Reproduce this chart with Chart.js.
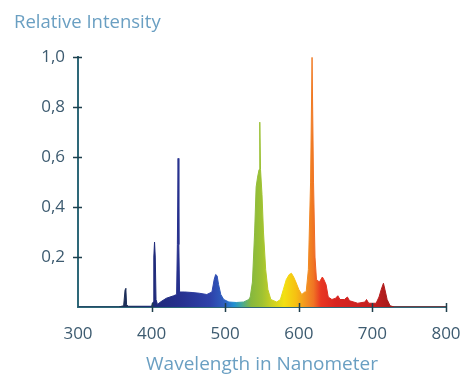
<!DOCTYPE html>
<html>
<head>
<meta charset="utf-8">
<script src="https://cdn.jsdelivr.net/npm/chart.js@4.4.1/dist/chart.umd.min.js"></script>
<style>
  html, body { margin: 0; padding: 0; background: #ffffff; }
  #wrap { width: 468px; height: 378px; }
</style>
</head>
<body>
<div id="wrap"><canvas id="spectrumChart"></canvas></div>
<script>
// Spectrum (wavelength in nm, relative intensity)
const wavelengths = [
    300, 355, 362, 364, 365, 366, 368,
    400, 402, 403, 404, 405, 406, 408,
    412, 420, 430, 434, 435, 436, 437, 438,
    445, 455, 465, 475, 482, 485, 487, 489, 491, 494, 498,
    505, 515, 525, 532, 534, 537, 540, 542, 544, 546, 547, 548, 550, 552, 555, 558, 562, 570,
    575, 579, 583, 587, 590, 593, 596, 600, 604, 608,
    610, 613, 616, 618, 620, 622, 624, 628, 632, 634, 637, 640,
    645, 650, 653, 656, 662, 666, 669, 680, 690, 692, 695,
    705, 709, 712, 715, 717, 720, 724, 730, 800
];
const intensities = [
    0, 0, 0.005, 0.07, 0.075, 0.01, 0.003,
    0.003, 0.02, 0.2, 0.26, 0.2, 0.03, 0.01,
    0.02, 0.035, 0.045, 0.05, 0.25, 0.595, 0.25, 0.06,
    0.06, 0.058, 0.055, 0.05, 0.06, 0.11, 0.13, 0.125, 0.09, 0.05, 0.03,
    0.02, 0.018, 0.02, 0.03, 0.04, 0.1, 0.3, 0.48, 0.52, 0.55, 0.74, 0.55, 0.45, 0.3, 0.15, 0.07, 0.03, 0.02,
    0.03, 0.07, 0.11, 0.13, 0.135, 0.12, 0.1, 0.07, 0.05, 0.06,
    0.06, 0.15, 0.5, 1.0, 0.5, 0.2, 0.11, 0.1, 0.12, 0.11, 0.09, 0.04,
    0.03, 0.035, 0.045, 0.03, 0.03, 0.04, 0.025, 0.015, 0.02, 0.03, 0.015,
    0.015, 0.04, 0.07, 0.095, 0.07, 0.03, 0.005, 0, 0
];
const xTicks = [300, 400, 500, 600, 700, 800];
const yTicks = [0.2, 0.4, 0.6, 0.8, 1.0];

// colour of the fill along the wavelength axis
const spectrumStops = [
    [360, '#1c2f55'], [400, '#1f2a78'], [440, '#26308f'], [480, '#2e42aa'],
    [500, '#2f62c2'], [512, '#2290d2'], [522, '#42a89c'], [535, '#86b83e'],
    [550, '#9fc232'], [565, '#cdd222'], [580, '#f2e012'], [596, '#f6c012'],
    [610, '#f29222'], [620, '#f07424'], [630, '#e83622'], [650, '#d82420'],
    [700, '#c42020'], [725, '#a41a1a']
];

const axisColor = '#2e6878';
const tickColor = '#3d5b70';
const titleColor = '#6a9fc2';

function spectrumGradient(context) {
    const chart = context.chart;
    const xScale = chart.scales.x;
    if (!chart.chartArea || !xScale) return '#26308f';
    const x0 = xScale.getPixelForValue(300);
    const x1 = xScale.getPixelForValue(800);
    const g = chart.ctx.createLinearGradient(x0, 0, x1, 0);
    spectrumStops.forEach(s => g.addColorStop((s[0] - 300) / 500, s[1]));
    return g;
}

// small tick marks that cross the axis lines
const crossTicks = {
    id: 'crossTicks',
    afterDatasetsDraw(chart) {
        const c = chart.ctx;
        const xs = chart.scales.x, ys = chart.scales.y;
        const area = chart.chartArea;
        c.save();
        c.strokeStyle = '#1f3f4c';
        c.lineWidth = 1.5;
        c.beginPath();
        xTicks.forEach(v => {
            const px = Math.round(xs.getPixelForValue(v)) + 0.5;
            if (v === 300) return;
            c.moveTo(px, area.bottom - 4);
            c.lineTo(px, area.bottom + 5);
        });
        yTicks.forEach(v => {
            const py = Math.round(ys.getPixelForValue(v)) + 0.5;
            c.moveTo(area.left - 5, py);
            c.lineTo(area.left + 4, py);
        });
        c.stroke();
        c.restore();
    }
};

const ctx = document.getElementById('spectrumChart').getContext('2d');
const spectrumChart = new Chart(ctx, {
    type: 'line',
    data: {
        datasets: [{
            label: 'Relative Intensity',
            data: wavelengths.map((w, i) => ({ x: w, y: intensities[i] })),
            backgroundColor: spectrumGradient,
            borderColor: spectrumGradient,
            borderWidth: 1,
            fill: 'origin',
            pointRadius: 0,
            tension: 0
        }]
    },
    options: {
        responsive: true,
        maintainAspectRatio: false,
        animation: false,
        layout: { padding: { left: 14, right: 22, top: 0, bottom: 0 } },
        plugins: {
            legend: { display: false },
            tooltip: { enabled: false },
            title: {
                display: true,
                text: 'Relative Intensity',
                align: 'start',
                color: titleColor,
                font: { family: 'Open Sans', size: 18.5, weight: 'normal' },
                padding: { top: 12, bottom: 23 }
            }
        },
        scales: {
            x: {
                type: 'linear',
                min: 300,
                max: 800,
                afterBuildTicks: scale => { scale.ticks = xTicks.map(v => ({ value: v })); },
                afterFit: scale => {
                    scale.height = 71;
                    scale.paddingLeft = 0;
                    scale.paddingRight = 0;
                },
                grid: { drawOnChartArea: false, drawTicks: false, tickLength: 5, color: axisColor },
                border: { display: true, color: axisColor, width: 2 },
                ticks: {
                    color: tickColor,
                    padding: 17,
                    maxRotation: 0,
                    font: { family: 'Open Sans', size: 17 }
                },
                title: {
                    display: true,
                    text: 'Wavelength in Nanometer',
                    color: titleColor,
                    font: { family: 'Open Sans', size: 19 },
                    padding: { top: 0, bottom: 2 }
                }
            },
            y: {
                min: 0,
                max: 1.0,
                afterBuildTicks: scale => { scale.ticks = yTicks.map(v => ({ value: v })); },
                afterFit: scale => { scale.width = 64; },
                grid: { drawOnChartArea: false, drawTicks: false, tickLength: 4, color: axisColor },
                border: { display: true, color: axisColor, width: 2 },
                ticks: {
                    color: tickColor,
                    padding: 13,
                    font: { family: 'Open Sans', size: 17 },
                    callback: value => value.toFixed(1).replace('.', ',')
                }
            }
        }
    },
    plugins: [crossTicks]
});
</script>
</body>
</html>
